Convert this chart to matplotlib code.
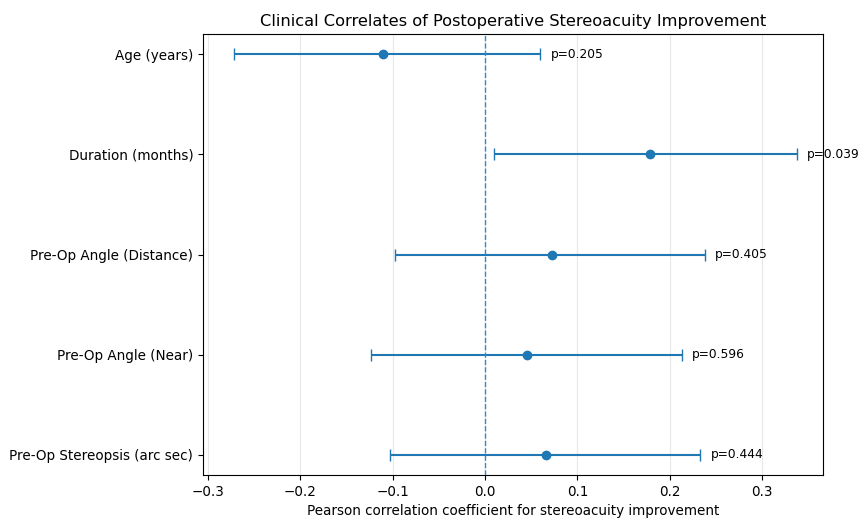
import matplotlib
matplotlib.use("Agg")
import matplotlib.pyplot as plt
import numpy as np

# Datos
variables = ["Age (years)", "Duration (months)", "Pre-Op Angle (Distance)",
             "Pre-Op Angle (Near)", "Pre-Op Stereopsis (arc sec)"]
r_vals = [-0.110, 0.178, 0.072, 0.046, 0.066]
ci_low = [-0.272, 0.010, -0.097, -0.123, -0.103]
ci_high = [0.060, 0.337, 0.238, 0.213, 0.233]
p_vals = ["p=0.205", "p=0.039", "p=0.405", "p=0.596", "p=0.444"]

plt.rcParams["font.size"] = 9.75

fig, ax = plt.subplots(figsize=(8.58, 5.18), dpi=100)
y = np.arange(len(variables))
r = np.array(r_vals)
err = [r - np.array(ci_low), np.array(ci_high) - r]

ax.errorbar(r, y, xerr=err, fmt="o", color="#1f77b4", capsize=4, markersize=6)
ax.axvline(0, color="#2b8ad0", linestyle="--", linewidth=1.0, zorder=3)

for yi, hi, p in zip(y, ci_high, p_vals):
    ax.text(hi + 0.011, yi, p, va="center", fontsize=8.8)

ax.set_yticks(y)
ax.set_yticklabels(variables)
ax.invert_yaxis()
ax.set_xlim(-0.305, 0.366)
ax.grid(axis="x", alpha=0.3)
ax.set_xlabel("Pearson correlation coefficient for stereoacuity improvement")
ax.set_title("Clinical Correlates of Postoperative Stereoacuity Improvement", fontsize=11.7)

plt.subplots_adjust(left=0.2366, right=0.9596, top=0.934, bottom=0.083)
plt.savefig("out.png")
